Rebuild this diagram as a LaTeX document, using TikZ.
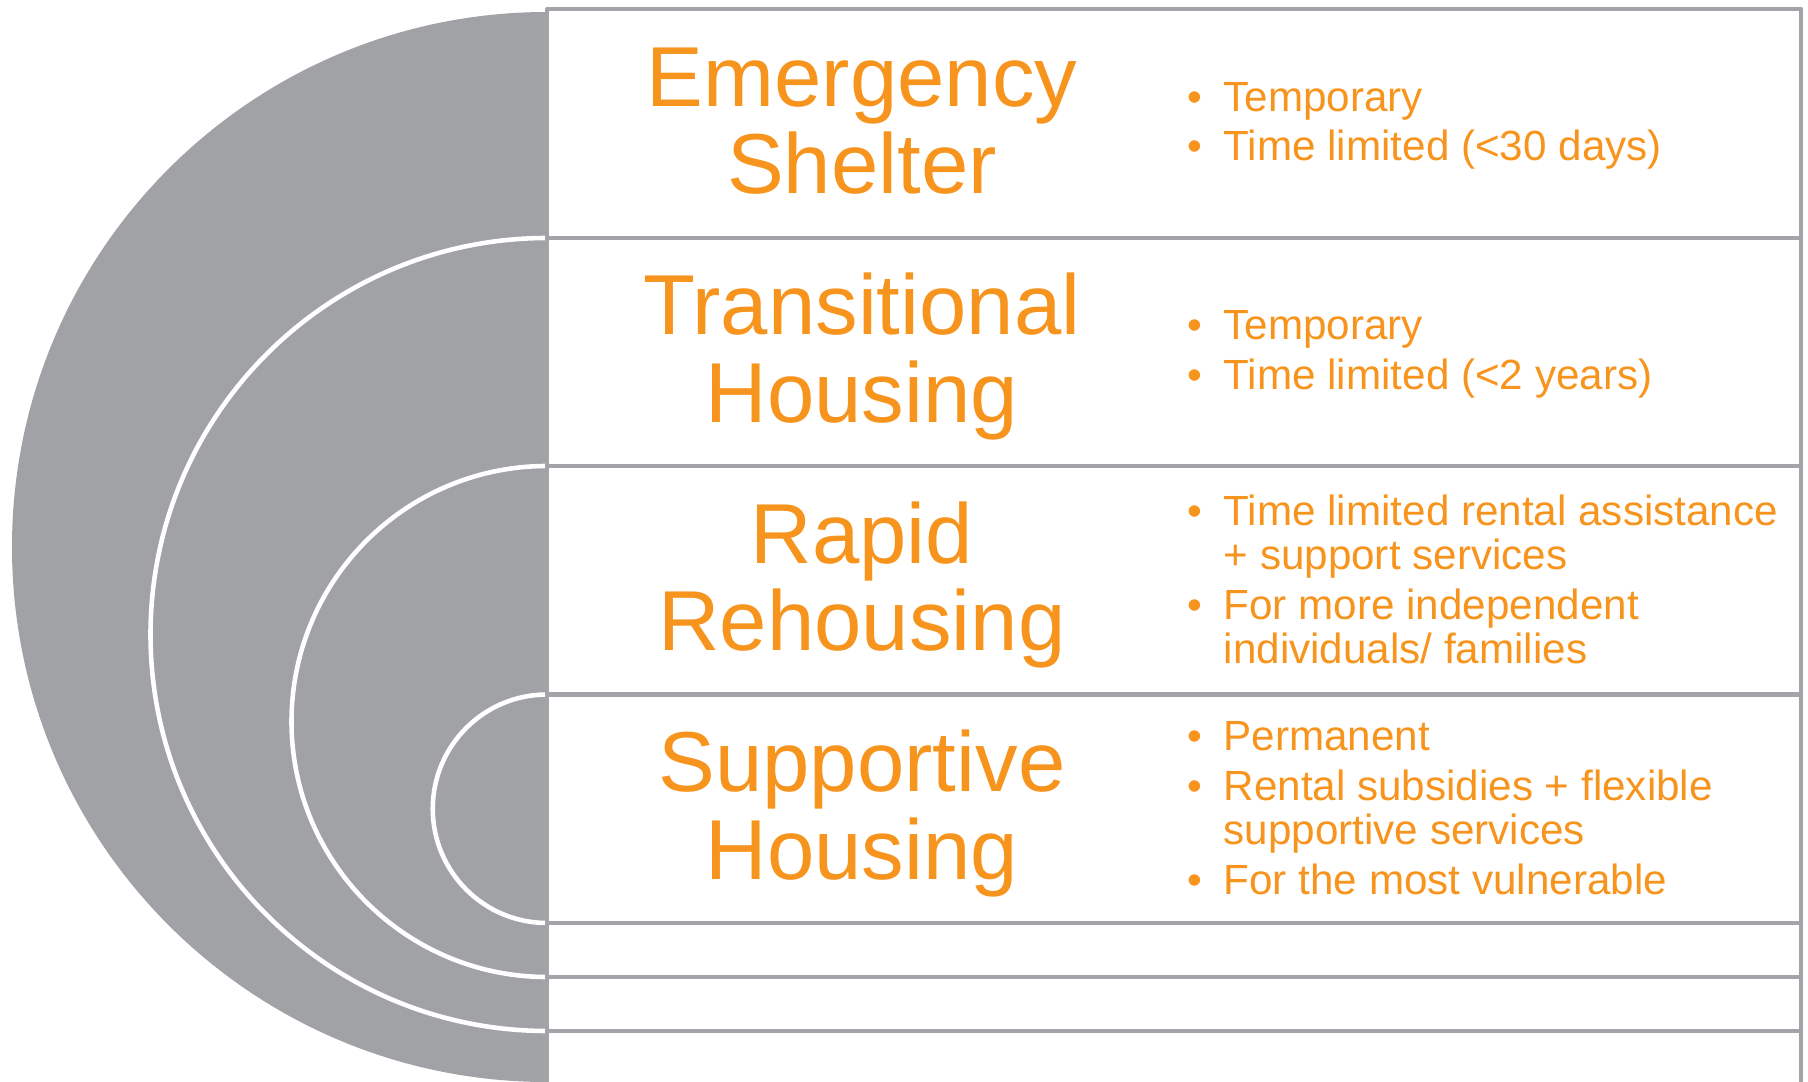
\documentclass[tikz,border=0pt]{standalone}
\usepackage{fontspec}
\setmainfont{Liberation Sans}
\definecolor{housingorange}{RGB}{247,148,30}
\definecolor{housinggray}{RGB}{161,162,166}
\definecolor{gridgray}{RGB}{163,164,168}
\newcommand{\hitem}{\llap{\textbullet\hspace{6pt}}}

\begin{document}
\begin{tikzpicture}[x=0.01cm, y=0.01cm,
    heading/.style={anchor=base, align=center, inner sep=0pt, text=housingorange,
        font=\fontsize{24.2}{25}\selectfont},
    points/.style={anchor=base west, align=left, inner sep=0pt, text=housingorange,
        font=\fontsize{12}{12.5}\selectfont},
    grid line/.style={gridgray, line width=1.35pt, line join=round}]
    \useasboundingbox (0,0) rectangle (1808,1081);
    \clip (0,0) rectangle (1808,1081);

    % Gray half disc
    \fill[housinggray] (547,1069) arc[start angle=90, end angle=270, radius=535] -- cycle;

    % White rings, one per level
    \foreach \cy/\r in {446.5/396.5, 359.5/255.5, 272.25/114.25}
        \draw[white, line width=1.3pt] (547,{\cy+\r}) arc[start angle=90, end angle=270, radius=\r];

    % Table frame and rows
    \draw[grid line] (547,-10) -- (547,1072) -- (1801,1072) -- (1801,-10);
    \foreach \y in {843, 615, 386.5, 158, 104, 50}
        \draw[grid line] (547,\y) -- (1801,\y);

    % Row titles (placed by the baseline of their last line)
    \node[heading] (emergency) at (862,887) {Emergency\\Shelter};
    \node[heading] (transitional) at (862,658.5) {Transitional\\Housing};
    \node[heading] (rapid) at (862,430) {Rapid\\Rehousing};
    \node[heading] (supportive) at (862,201.5) {Supportive\\Housing};

    % Row bullet points
    \node[points] (emergencypts) at (1223,920.3)
        {\hitem Temporary\\[1.6pt]\hitem Time limited (<30 days)};
    \node[points] (transitionalpts) at (1223,691.8)
        {\hitem Temporary\\[1.6pt]\hitem Time limited (<2 years)};
    \node[points] (rapidpts) at (1223,417.7)
        {\hitem Time limited rental assistance\\+ support services\\[1.8pt]\hitem For more independent\\individuals/ families};
    \node[points] (supportivepts) at (1223,186)
        {\hitem Permanent\\[1.8pt]\hitem Rental subsidies + flexible\\supportive services\\[1.8pt]\hitem For the most vulnerable};
\end{tikzpicture}
\end{document}
